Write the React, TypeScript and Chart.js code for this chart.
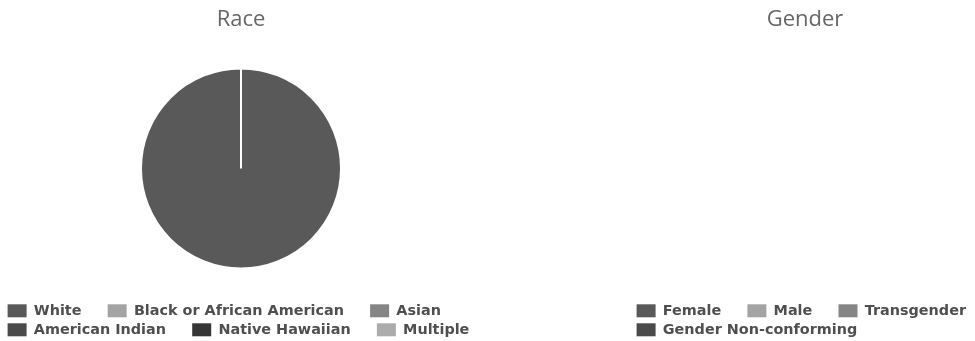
import React, { useEffect, useRef } from 'react';
import { Chart, registerables } from 'chart.js';

Chart.register(...registerables);

const raceTitle = 'Race';
const raceLabels = ['White', 'Black or African American', 'Asian', 'American Indian', 'Native Hawaiian', 'Multiple'];
const raceValues = [100, 0, 0, 0, 0, 0];
const raceColors = ['#595959', '#a3a3a3', '#858585', '#4a4a4a', '#363636', '#acacac'];
const raceRowEnds = [2, 5];

const genderTitle = 'Gender';
const genderLabels = ['Female', 'Male', 'Transgender', 'Gender Non-conforming'];
const genderValues = [0, 0, 0, 0];
const genderColors = ['#595959', '#a3a3a3', '#858585', '#4a4a4a'];
const genderRowEnds = [2, 3];

const GAP = '\u2003\u2002';

type PieProps = {
  title: string;
  labels: string[];
  values: number[];
  colors: string[];
  rowEnds: number[];
  lineColor: string;
  width: number;
  height: number;
  left: number;
};

function PieChart({ title, labels, values, colors, rowEnds, lineColor, width, height, left }: PieProps) {
  const ref = useRef<HTMLCanvasElement>(null);
  useEffect(() => {
    const chart = new Chart(ref.current as HTMLCanvasElement, {
      type: 'pie',
      data: {
        labels,
        datasets: [
          {
            data: values,
            backgroundColor: colors,
            borderColor: lineColor,
            borderWidth: 2,
            radius: 100,
          } as any,
        ],
      },
      options: {
        responsive: false,
        animation: false,
        layout: { padding: 0 },
        plugins: {
          title: {
            display: true,
            text: title,
            color: '#666',
            font: { family: "'Open Sans', sans-serif", size: 22, weight: 'normal' },
            padding: { top: 7, bottom: 4.4 },
          },
          legend: {
            position: 'bottom',
            align: 'start',
            labels: {
              boxWidth: 19,
              boxHeight: 13,
              padding: 4.6,
              color: '#4f4f4f',
              font: { family: "'DejaVu Sans', sans-serif", size: 14.4, weight: 'bold' },
              generateLabels: (c: any) => {
                const items = (Chart as any).overrides.pie.plugins.legend.labels.generateLabels(c);
                return items.map((it: any, i: number) => ({
                  ...it,
                  text: rowEnds.includes(i) ? it.text : it.text + GAP,
                  lineWidth: 0,
                  strokeStyle: 'rgba(0,0,0,0)',
                  hidden: false,
                }));
              },
            },
          },
          tooltip: { enabled: false },
        },
      } as any,
    });
    return () => chart.destroy();
  }, []);
  return (
    <canvas
      ref={ref}
      width={width}
      height={height}
      style={{ position: 'absolute', left, top: 0, width, height }}
    />
  );
}

export default function App() {
  return (
    <div
      style={{
        position: 'fixed',
        left: 0,
        top: 0,
        width: 975,
        height: 341,
        overflow: 'hidden',
        background: '#fff',
      }}
    >
      <PieChart
        title={raceTitle}
        labels={raceLabels}
        values={raceValues}
        colors={raceColors}
        rowEnds={raceRowEnds}
        lineColor="#ffffff"
        width={476}
        height={347}
        left={3}
      />
      <PieChart
        title={genderTitle}
        labels={genderLabels}
        values={genderValues}
        colors={genderColors}
        rowEnds={genderRowEnds}
        lineColor="#eeeeee"
        width={346}
        height={347}
        left={632}
      />
    </div>
  );
}
